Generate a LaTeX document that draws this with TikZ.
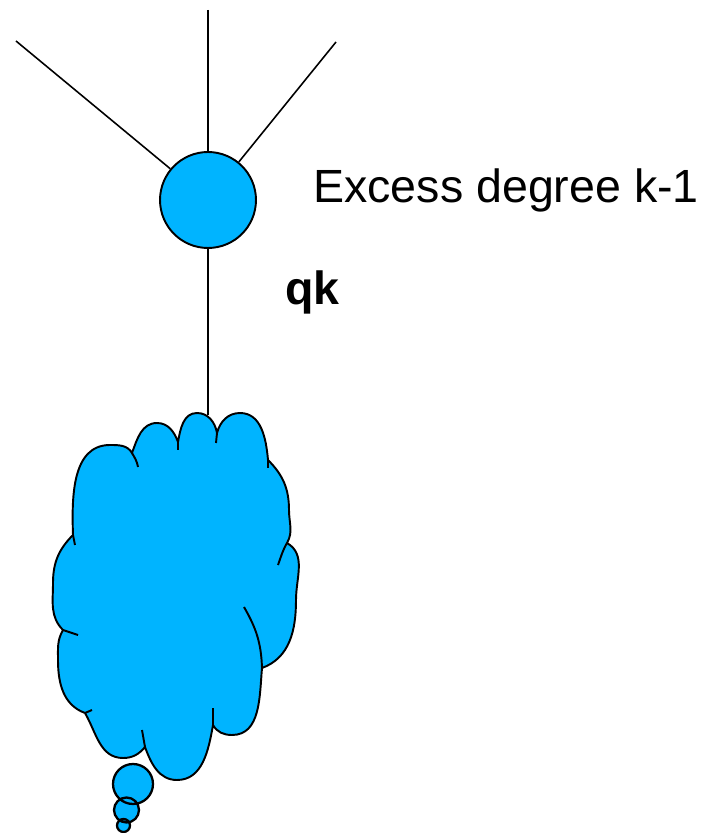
\documentclass[tikz,border=0pt]{standalone}
\usepackage{fontspec}
\setmainfont{Liberation Sans}
\definecolor{azul}{RGB}{0,180,255}
\begin{document}
\begin{tikzpicture}[x=0.02cm,y=0.02cm,
  linha/.style={line width=0.9pt},
  bola/.style={fill=azul, draw=black, line width=1.1pt}]
  \useasboundingbox (0,0) rectangle (704,833);
  % vertice e arestas
  \node[bola, circle, inner sep=0pt, minimum size=1.92cm] (v) at (208,633) {};
  \coordinate (t1) at (16,792);
  \coordinate (t2) at (208,823);
  \coordinate (t3) at (336,791);
  \coordinate (c) at (208,418);
  \draw[linha] (t1) -- (v);
  \draw[linha] (t2) -- (v);
  \draw[linha] (t3) -- (v);
  \draw[linha] (v) -- (c);
  \node[anchor=base west, inner sep=0pt, font=\fontsize{26.5}{30}\selectfont] (lbl) at (313,630) {Excess degree k-1};
  \node[anchor=base west, inner sep=0pt, font=\fontsize{26.5}{30}\selectfont\bfseries] (qk) at (285,528) {qk};
  % nuvem
  \draw[bola] (132,380) to[out=70,in=180] (157,410) to[out=0,in=110] (178,391)
    to[out=80,in=180] (197,420) to[out=0,in=100] (217,400)
    to[out=75,in=180] (240,420) to[out=0,in=95] (268,373)
    to[out=-45,in=90] (289,323) to[out=-90,in=60] (287,290)
    to[out=-30,in=90] (296,233) to[out=-90,in=20] (262,165)
    to[out=-95,in=0] (232,98) to[out=180,in=-60] (213,108)
    to[out=-100,in=0] (177,53) to[out=180,in=-70] (145,86)
    to[out=-130,in=0] (123,75) to[out=180,in=-60] (85,120)
    to[out=160,in=-90] (58,173) to[out=90,in=-120] (63,203)
    to[out=135,in=-90] (53,250) to[out=90,in=-135] (73,298)
    to[out=92,in=180] (110,388) to[out=0,in=120] (132,380) -- cycle;
  \draw[bola, fill=none] (132,380) to[out=-60,in=100] (138,366);
  \draw[bola, fill=none] (178,391) -- (178,383);
  \draw[bola, fill=none] (217,400) -- (216,390);
  \draw[bola, fill=none] (268,373) -- (268,365);
  \draw[bola, fill=none] (287,290) to[out=-120,in=70] (278,268);
  \draw[bola, fill=none] (244,226) to[out=-60,in=92] (262,165);
  \draw[bola, fill=none] (213,108) -- (213,125);
  \draw[bola, fill=none] (145,86) -- (142,103);
  \draw[bola, fill=none] (85,120) -- (92,123);
  \draw[bola, fill=none] (63,203) -- (78,198);
  \draw[bola, fill=none] (73,298) -- (75,288);
  % bolhas
  \fill[azul] (133,49) circle (20) (126.5,23) circle (12.5) (123.5,7.5) circle (6.5);
  \draw[bola, fill=none, line width=1.3pt] (133,49) circle (20) (126.5,23) circle (12.5) (123.5,7.5) circle (6.5);
\end{tikzpicture}
\end{document}
